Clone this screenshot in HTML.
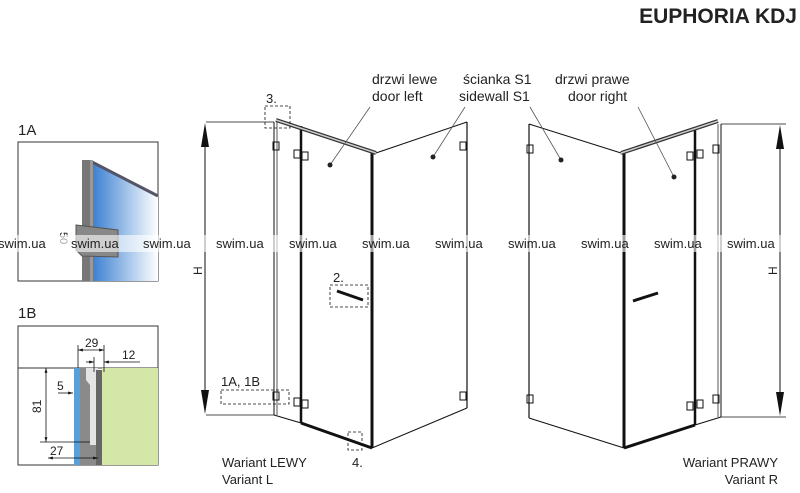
<!DOCTYPE html>
<html><head><meta charset="utf-8"><style>
body{margin:0;background:#fff}
svg{display:block}
text{font-family:"Liberation Sans",sans-serif;fill:#222}
</style></head><body>
<svg width="800" height="493" viewBox="0 0 800 493" xmlns="http://www.w3.org/2000/svg">
<defs>
<linearGradient id="bl" x1="0" x2="1"><stop offset="0" stop-color="#3a7fd0"/><stop offset="1" stop-color="#fff"/></linearGradient>
<marker id="ar" viewBox="0 0 10 10" refX="10" refY="5" markerWidth="6" markerHeight="6" orient="auto-start-reverse"><path d="M0,2L10,5L0,8z" fill="#111"/></marker>
</defs>
<text x="797" y="23" text-anchor="end" font-size="21" font-weight="bold" fill="#222">EUPHORIA KDJ</text>

<!-- 1A -->
<text x="18" y="135" font-size="15">1A</text>
<rect x="18" y="142" width="140" height="139" fill="#fff" stroke="#333"/>
<polygon points="92,162 158,196 158,281 92,281" fill="url(#bl)"/>
<line x1="92" y1="162" x2="158" y2="196" stroke="#556" stroke-width="3"/>
<rect x="82" y="160" width="8" height="121" fill="#777"/>
<rect x="90" y="160" width="3" height="121" fill="#999"/>
<polygon points="76,225 118,230 118,257 82,256 76,250" fill="#888" stroke="#555"/>
<text x="60" y="232" font-size="11" transform="rotate(90 60 232)">50</text>

<!-- 1B -->
<text x="18" y="318" font-size="15">1B</text>
<rect x="18" y="326" width="140" height="139" fill="#fff" stroke="#333"/>
<line x1="18" y1="368" x2="158" y2="368" stroke="#333"/>
<rect x="102" y="368" width="56" height="97" fill="#d4e6a8"/>
<rect x="74" y="368" width="6" height="97" fill="#5aa0d8"/>
<rect x="80" y="368" width="18" height="97" fill="#e4e4e4"/>
<polygon points="82,368 86,368 86,380 90,385 90,445 98,445 98,465 80,465 80,368" fill="#8a8a8a"/>
<rect x="96" y="370" width="6" height="95" fill="#666"/>
<g stroke="#111" stroke-width="0.8" fill="none">
<line x1="78" y1="345" x2="78" y2="368"/><line x1="104" y1="345" x2="104" y2="372"/>
<line x1="78" y1="350" x2="104" y2="350" marker-start="url(#ar)" marker-end="url(#ar)"/>
<line x1="94" y1="357" x2="94" y2="372"/><line x1="86" y1="362" x2="94" y2="362" marker-end="url(#ar)"/><line x1="104" y1="362" x2="140" y2="362" marker-start="url(#ar)"/>
<line x1="46" y1="368" x2="46" y2="442" marker-start="url(#ar)" marker-end="url(#ar)"/>
<line x1="40" y1="442" x2="90" y2="442"/>
<line x1="58" y1="393" x2="73" y2="393" marker-end="url(#ar)"/>
<line x1="48" y1="458" x2="98" y2="458" marker-start="url(#ar)" marker-end="url(#ar)"/>
</g>
<text x="85" y="347" font-size="12">29</text>
<text x="122" y="359" font-size="12">12</text>
<text x="57" y="390" font-size="12">5</text>
<text x="50" y="455" font-size="12">27</text>
<text x="41" y="413" font-size="12" transform="rotate(-90 41 413)">81</text>

<!-- Left variant -->
<g stroke="#111" fill="none">
<line x1="274" y1="122" x2="274" y2="415" stroke-width="1"/>
<line x1="277" y1="122" x2="277" y2="415" stroke-width="0.7"/>
<line x1="274" y1="415" x2="301" y2="423"/>
<line x1="301" y1="126" x2="301" y2="423" stroke-width="2.5"/>
<line x1="372" y1="152" x2="372" y2="448" stroke-width="3"/>
<line x1="301" y1="423" x2="372" y2="448" stroke-width="3"/>
<line x1="276" y1="120" x2="376" y2="153" stroke-width="4" stroke="#333"/>
<line x1="276" y1="120" x2="376" y2="153" stroke-width="1.5" stroke="#ccc"/>
<line x1="376" y1="153" x2="467" y2="122"/>
<line x1="467" y1="122" x2="467" y2="408" stroke-width="1.2"/>
<line x1="372" y1="448" x2="467" y2="408"/>
<line x1="206" y1="122" x2="274" y2="122" stroke-width="0.8"/>
<line x1="206" y1="415" x2="274" y2="415" stroke-width="0.8"/>
<line x1="205" y1="130" x2="205" y2="405" stroke-width="1"/>
<g stroke-dasharray="3,2" stroke-width="0.8">
<rect x="265" y="106" width="25" height="22"/>
<rect x="330" y="285" width="38" height="22"/>
<rect x="221" y="390" width="68" height="14"/>
<rect x="348" y="432" width="14" height="18"/>
</g>
<g stroke-width="1"><rect x="273" y="142" width="6" height="8"/><rect x="294" y="150" width="6" height="8"/><rect x="302" y="152" width="6" height="8"/>
<rect x="273" y="392" width="6" height="8"/><rect x="294" y="398" width="6" height="8"/><rect x="302" y="400" width="6" height="8"/>
<rect x="460" y="142" width="6" height="8"/><rect x="460" y="392" width="6" height="8"/></g>
<line x1="337" y1="291" x2="363" y2="300" stroke-width="3"/>
<line x1="330" y1="165" x2="370" y2="107" stroke="#555" stroke-width="0.8"/>
<line x1="433" y1="157" x2="465" y2="107" stroke="#555" stroke-width="0.8"/>
</g>
<polygon points="205,123 201,147 209,147" fill="#111"/>
<polygon points="205,414 201,390 209,390" fill="#111"/>
<circle cx="330" cy="165" r="2.5" fill="#222"/><circle cx="433" cy="157" r="2.5" fill="#222"/>
<text x="266" y="103" font-size="13">3.</text>
<text x="333" y="282" font-size="13">2.</text>
<text x="221" y="386" font-size="13">1A, 1B</text>
<text x="352" y="467" font-size="13">4.</text>
<text x="202" y="275" font-size="12" transform="rotate(-90 202 275)">H</text>
<text x="372" y="84" font-size="14">drzwi lewe</text>
<text x="372" y="101" font-size="14">door left</text>
<text x="463" y="84" font-size="14">ścianka S1</text>
<text x="459" y="101" font-size="14">sidewall S1</text>
<text x="222" y="467" font-size="13">Wariant LEWY</text>
<text x="222" y="484" font-size="13">Variant L</text>

<!-- Right variant -->
<g stroke="#111" fill="none">
<line x1="529" y1="124" x2="529" y2="418" stroke-width="1.2"/>
<line x1="529" y1="124" x2="621" y2="153"/>
<line x1="529" y1="418" x2="624" y2="448"/>
<line x1="624" y1="153" x2="624" y2="448" stroke-width="3"/>
<line x1="624" y1="448" x2="695" y2="425" stroke-width="3"/>
<line x1="695" y1="130" x2="695" y2="425" stroke-width="2.5"/>
<line x1="621" y1="153" x2="718" y2="121" stroke-width="4" stroke="#333"/>
<line x1="621" y1="153" x2="718" y2="121" stroke-width="1.5" stroke="#ccc"/>
<line x1="721" y1="124" x2="721" y2="417"/><line x1="718" y1="124" x2="718" y2="417" stroke-width="0.7"/>
<line x1="695" y1="425" x2="721" y2="417"/>
<line x1="721" y1="124" x2="786" y2="124" stroke-width="0.8"/>
<line x1="721" y1="417" x2="786" y2="417" stroke-width="0.8"/>
<line x1="780" y1="132" x2="780" y2="408"/>
<g stroke-width="1"><rect x="527" y="145" width="6" height="8"/><rect x="527" y="395" width="6" height="8"/>
<rect x="687" y="152" width="6" height="8"/><rect x="697" y="150" width="6" height="8"/><rect x="713" y="145" width="6" height="8"/>
<rect x="687" y="402" width="6" height="8"/><rect x="697" y="400" width="6" height="8"/><rect x="713" y="395" width="6" height="8"/></g>
<line x1="633" y1="301" x2="658" y2="293" stroke-width="3"/>
<line x1="561" y1="160" x2="530" y2="107" stroke="#555" stroke-width="0.8"/>
<line x1="674" y1="177" x2="638" y2="107" stroke="#555" stroke-width="0.8"/>
</g>
<polygon points="780,125 776,149 784,149" fill="#111"/>
<polygon points="780,416 776,392 784,392" fill="#111"/>
<circle cx="561" cy="160" r="2.5" fill="#222"/><circle cx="674" cy="177" r="2.5" fill="#222"/>
<text x="777" y="275" font-size="12" transform="rotate(-90 777 275)">H</text>
<text x="555" y="84" font-size="14">drzwi prawe</text>
<text x="568" y="101" font-size="14">door right</text>
<text x="778" y="467" font-size="13" text-anchor="end">Wariant PRAWY</text>
<text x="778" y="484" font-size="13" text-anchor="end">Variant R</text>

<!-- watermark row -->
<g font-size="13">
<rect x="0" y="235" width="800" height="17" fill="#fff" opacity="0.6"/>
<text x="-2" y="248" fill="#888">swim.ua</text><text x="71" y="248" fill="#888">swim.ua</text><text x="143" y="248" fill="#888">swim.ua</text>
<text x="216" y="248" fill="#888">swim.ua</text><text x="289" y="248" fill="#888">swim.ua</text><text x="362" y="248" fill="#888">swim.ua</text>
<text x="435" y="248" fill="#888">swim.ua</text><text x="508" y="248" fill="#888">swim.ua</text><text x="581" y="248" fill="#888">swim.ua</text>
<text x="654" y="248" fill="#888">swim.ua</text><text x="727" y="248" fill="#888">swim.ua</text>
</g>
</svg>
</body></html>
